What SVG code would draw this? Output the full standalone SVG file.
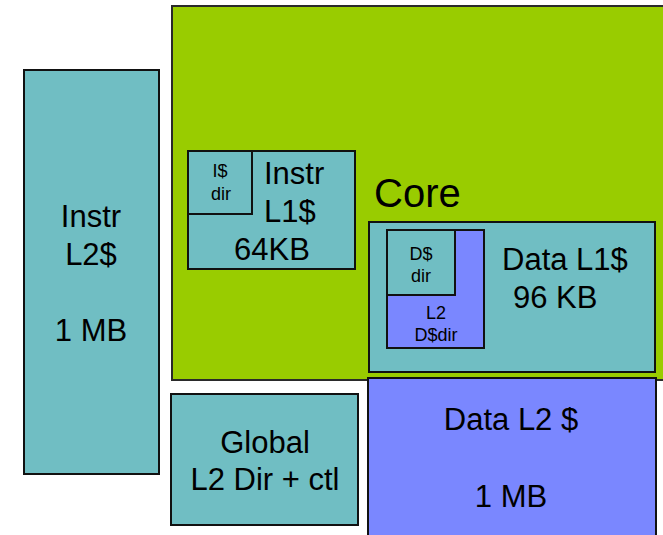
<svg xmlns="http://www.w3.org/2000/svg" width="663" height="535" viewBox="0 0 663 535">
  <style>
    .box { stroke: #111; stroke-width: 2; }
    .teal { fill: #70BEC3; }
    .blue { fill: #7A87FF; }
    .green { fill: #99CC00; stroke: #2a2a2a; stroke-width: 2; }
    text { font-family: "Liberation Sans", Arial, sans-serif; fill: #000; }
    .big { font-size: 31px; }
    .mid { font-size: 31px; text-anchor: middle; }
    .small { font-size: 18px; text-anchor: middle; }
    .core { font-size: 40px; }
  </style>
  <rect width="663" height="535" fill="#ffffff"/>

  <!-- processor core region -->
  <g id="core">
    <rect class="green" x="172" y="6" width="500" height="374"/>
    <text class="core" x="374" y="207">Core</text>
  </g>

  <!-- instruction L2 cache -->
  <g id="instr-l2">
    <rect class="box teal" x="24" y="70" width="135" height="404"/>
    <text class="mid" x="91" y="227">Instr</text>
    <text class="mid" x="91" y="265">L2$</text>
    <text class="mid" x="91" y="341">1 MB</text>
  </g>

  <!-- instruction L1 cache with its directory -->
  <g id="instr-l1">
    <rect class="box teal" x="188" y="151" width="167" height="118"/>
    <text class="big" x="264" y="184">Instr</text>
    <text class="big" x="264" y="222">L1$</text>
    <text class="mid" x="272" y="260">64KB</text>
  </g>
  <g id="i-dir">
    <rect class="box teal" x="188" y="151" width="64" height="63"/>
    <text class="small" x="220" y="177">I$</text>
    <text class="small" x="221" y="200">dir</text>
  </g>

  <!-- data L1 cache with directories -->
  <g id="data-l1">
    <rect class="box teal" x="369" y="222" width="286" height="150"/>
    <text class="big" x="502" y="270">Data L1$</text>
    <text class="big" x="513" y="308">96 KB</text>
  </g>
  <g id="l2-d-dir">
    <rect class="box blue" x="387" y="230" width="97" height="118"/>
    <text class="small" x="436" y="319">L2</text>
    <text class="small" x="436" y="341">D$dir</text>
  </g>
  <g id="d-dir">
    <rect class="box teal" x="387" y="230" width="68" height="65"/>
    <text class="small" x="421" y="260">D$</text>
    <text class="small" x="421" y="282">dir</text>
  </g>

  <!-- global directory and control -->
  <g id="global-dir">
    <rect class="box teal" x="171" y="394" width="187" height="131"/>
    <text class="mid" x="265" y="453">Global</text>
    <text class="mid" x="265" y="490">L2 Dir + ctl</text>
  </g>

  <!-- data L2 cache -->
  <g id="data-l2">
    <rect class="box blue" x="368" y="378" width="288" height="170" stroke-width="3"/>
    <text class="mid" x="511" y="430">Data L2 $</text>
    <text class="mid" x="511" y="507">1 MB</text>
  </g>

  <g id="connectors"/>
</svg>
